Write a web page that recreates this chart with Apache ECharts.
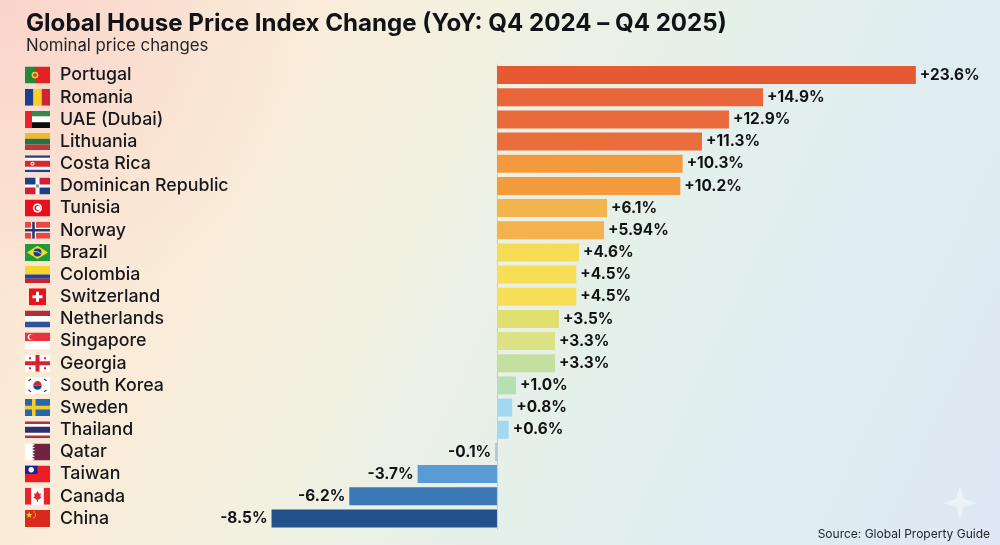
<!DOCTYPE html>
<html>
<head>
<meta charset="utf-8">
<script src="https://cdn.jsdelivr.net/npm/echarts@6/dist/echarts.min.js"></script>
<style>
html,body{margin:0;padding:0;width:1000px;height:545px;overflow:hidden}
body{background:
 radial-gradient(ellipse 300px 330px at 0 0,rgba(250,205,200,.7),rgba(250,205,200,0) 100%),
 linear-gradient(115deg,#fbe6d2 0%,#f9ecd9 25%,#f0f1e2 42%,#e4f0ea 60%,#dfedf2 80%,#dee7f4 100%);}
#c{width:1000px;height:545px}
</style>
</head>
<body>
<div id="c"></div>
<script>
var categories = ['Portugal','Romania','UAE (Dubai)','Lithuania','Costa Rica','Dominican Republic','Tunisia','Norway','Brazil','Colombia','Switzerland','Netherlands','Singapore','Georgia','South Korea','Sweden','Thailand','Qatar','Taiwan','Canada','China'];
// Figures as printed beside each bar in the reference.
var printedLabels = ['+23.6%','+14.9%','+12.9%','+11.3%','+10.3%','+10.2%','+6.1%','+5.94%','+4.6%','+4.5%','+4.5%','+3.5%','+3.3%','+3.3%','+1.0%','+0.8%','+0.6%','-0.1%','-3.7%','-6.2%','-8.5%'];
// Bar lengths as drawn in the reference, on the scale of its top bar. They differ from the
// printed figures: the reference draws its negative bars longer than their printed values.
var drawnLengths = [23.6,14.99,13.07,11.55,10.46,10.33,6.2,6.03,4.62,4.47,4.47,3.49,3.27,3.27,1.07,0.86,0.66,-0.1,-4.47,-8.32,-12.7];
var barColors = ['#e55a33','#e8663a','#e96b3b','#ea6e3c','#f39a3e','#f49c3d','#f3b44e','#f3b24e','#f6dc55','#f6df56','#f6df56','#dfe06e','#dbe284','#c5dfa0','#b5e0b5','#a3d8f2','#a3d8f2','#a9c4dc','#5b9bd5','#3a78b5','#22518c'];

function svg(body, w, h){
  w = w || 25; h = h || 17;
  return 'data:image/svg+xml;charset=utf-8,' + encodeURIComponent('<svg xmlns="http://www.w3.org/2000/svg" width="'+w*4+'" height="'+h*4+'" viewBox="0 0 '+w+' '+h+'">'+body+'</svg>');
}
function r(x,y,w,h,f){return '<rect x="'+x+'" y="'+y+'" width="'+w+'" height="'+h+'" fill="'+f+'"/>';}
var flagArt = [
 r(0,0,10,17,'#1f8a3c')+r(10,0,15,17,'#e32222')+'<circle cx="10" cy="8.5" r="3.4" fill="#f3c33b"/><circle cx="10" cy="8.5" r="1.8" fill="#c8402c"/>',
 r(0,0,8.4,17,'#1c3f94')+r(8.4,0,8.3,17,'#f8cf2a')+r(16.7,0,8.3,17,'#cf2435'),
 r(0,0,25,5.7,'#2f8a4c')+r(0,5.7,25,5.6,'#fff')+r(0,11.3,25,5.7,'#0c0c0c')+r(0,0,7,17,'#e3262b'),
 r(0,0,25,5.7,'#f2b92f')+r(0,5.7,25,5.6,'#2c7048')+r(0,11.3,25,5.7,'#b5393c'),
 r(0,0,25,17,'#fff')+r(0,0,25,2.6,'#2a3f86')+r(0,14.4,25,2.6,'#2a3f86')+r(0,5.4,25,6.2,'#d6282f')+'<circle cx="7.5" cy="8.5" r="2" fill="#fff"/><circle cx="7.5" cy="8.5" r="1" fill="#7a5a3a"/>',
 r(0,0,25,17,'#fff')+r(0,0,10.5,7,'#1d3f87')+r(14.5,0,10.5,7,'#d21f35')+r(0,10,10.5,7,'#d21f35')+r(14.5,10,10.5,7,'#1d3f87')+r(11,7,3,3,'#7f9a8a'),
 r(0,0,25,17,'#e8101f')+'<circle cx="12.5" cy="8.5" r="4.6" fill="#fff"/><circle cx="12.5" cy="8.5" r="3" fill="#e8101f"/><circle cx="13.4" cy="8.5" r="2.4" fill="#fff"/>',
 r(0,0,25,17,'#e8483f')+r(6,0,5,17,'#fff')+r(0,6,25,5,'#fff')+r(7.2,0,2.6,17,'#24386f')+r(0,7.2,25,2.6,'#24386f'),
 r(0,0,25,17,'#1f9a3a')+'<path d="M12.5 1.8L23 8.5L12.5 15.2L2 8.5Z" fill="#f6dc27"/><circle cx="12.5" cy="8.5" r="4" fill="#1f3a80"/><path d="M8.7 7.6Q12.5 7 16.2 9.8" stroke="#fff" fill="none" stroke-width=".7"/>',
 r(0,0,25,8.5,'#f8d52c')+r(0,8.5,25,4.25,'#24409a')+r(0,12.75,25,4.25,'#c9232f'),
 r(0,0,17,17,'#e8141c')+r(7,3.5,3,10,'#fff')+r(3.5,7,10,3,'#fff'),
 r(0,0,25,5.7,'#ad3038')+r(0,5.7,25,5.6,'#fff')+r(0,11.3,25,5.7,'#33509c'),
 r(0,0,25,8.5,'#e8333f')+r(0,8.5,25,8.5,'#fff')+'<circle cx="5.6" cy="4.3" r="2.9" fill="#fff"/><circle cx="6.9" cy="4.3" r="2.7" fill="#e8333f"/>',
 r(0,0,25,17,'#fff')+r(10.5,0,4,17,'#d8232f')+r(0,6.5,25,4,'#d8232f')+r(4,2.5,2,2,'#d8232f')+r(19,2.5,2,2,'#d8232f')+r(4,12.5,2,2,'#d8232f')+r(19,12.5,2,2,'#d8232f'),
 r(0,0,25,17,'#fff')+'<path d="M8.2 8.5A4.3 4.3 0 0 1 16.8 8.5Z" fill="#d6233a"/><path d="M8.2 8.5A4.3 4.3 0 0 0 16.8 8.5Z" fill="#20408f"/>'+'<g stroke="#222" stroke-width="1.1"><path d="M3.5 4L6 2M19 2L21.5 4M3.5 13L6 15M19 15L21.5 13"/></g>',
 r(0,0,25,17,'#2767a8')+r(7,0,3.6,17,'#f6c92c')+r(0,6.7,25,3.6,'#f6c92c'),
 r(0,0,25,17,'#fff')+r(0,0,25,2.8,'#b5303f')+r(0,14.2,25,2.8,'#b5303f')+r(0,5.6,25,5.8,'#2e2f68'),
 r(0,0,25,17,'#fff')+'<path d="M7 0H25V17H7L10 15.6L7 14.2L10 12.8L7 11.4L10 10L7 8.5L10 7L7 5.6L10 4.2L7 2.8L10 1.4Z" fill="#6e2440"/>',
 r(0,0,25,17,'#ee1c25')+r(0,0,12.5,8.5,'#17249c')+'<circle cx="6.2" cy="4.2" r="2.7" fill="#fff"/>',
 r(0,0,25,17,'#fff')+r(0,0,6.2,17,'#e8232a')+r(18.8,0,6.2,17,'#e8232a')+'<path d="M12.5 3L14 6L16 5.4L15.2 8.8L16.8 9.4L13 12.2V14H12V12.2L8.2 9.4L9.8 8.8L9 5.4L11 6Z" fill="#e8232a"/>',
 r(0,0,25,17,'#d82a1e')+'<path d="M4.2 1.8L5 4.1H7.3L5.4 5.5L6.1 7.8L4.2 6.4L2.3 7.8L3 5.5L1.1 4.1H3.4Z" fill="#f9dc2a"/>'+'<circle cx="9" cy="2" r=".7" fill="#f9dc2a"/><circle cx="10.4" cy="4" r=".7" fill="#f9dc2a"/><circle cx="10.4" cy="6" r=".7" fill="#f9dc2a"/><circle cx="9" cy="7.8" r=".7" fill="#f9dc2a"/>'
];
var flagWidths = {10:17};
var rich = {
  name:{fontFamily:'Inter',fontSize:17.8,fontWeight:500,color:'#16181c',padding:[0,0,0,10]},
  pad:{width:4}
};
flagArt.forEach(function(a,i){
  var w = flagWidths[i]||25;
  rich['f'+i] = {width:w,height:17,backgroundColor:{image:svg(a,w,17)}};
});

var barData = drawnLengths.map(function(v,i){
  return {
    value:v,
    itemStyle:{color:barColors[i]},
    label:{position:v<0?'left':'right',formatter:printedLabels[i]}
  };
});

var chart = echarts.init(document.getElementById('c'),null,{renderer:'canvas'});
chart.setOption({
  animation:false,
  backgroundColor:'transparent',
  title:[
    {text:'Global House Price Index Change (YoY: Q4 2024 – Q4 2025)',left:21,top:7,textStyle:{fontFamily:'Inter',fontSize:24.1,fontWeight:700,color:'#121316'}},
    {text:'Nominal price changes',left:21,top:32,textStyle:{fontFamily:'Inter',fontSize:16.8,fontWeight:400,color:'#23262b'}},
    {text:'Source: Global Property Guide',right:5,top:523,textStyle:{fontFamily:'Inter',fontSize:12,fontWeight:400,color:'#23262b'}}
  ],
  grid:{left:25,right:0,top:64,bottom:15.5,containLabel:false,outerBoundsMode:'none'},
  xAxis:{type:'value',min:-26.59,max:28.34,show:false},
  yAxis:{
    type:'category',data:categories,inverse:true,
    axisLine:{show:true,onZero:true,lineStyle:{color:'#c4cad0',width:1}},
    axisTick:{show:false},splitLine:{show:false},
    axisLabel:{
      margin:0,align:'left',interval:0,
      formatter:function(v,i){
        var gap = flagWidths[i]? '{pad|}' : '';
        return gap+'{f'+i+'|}'+gap+'{name|'+v+'}';
      },
      rich:rich
    }
  },
  series:[{
    type:'bar',data:barData,barWidth:18,
    label:{show:true,distance:4,fontFamily:'Inter',fontSize:15.4,fontWeight:700,color:'#121316'}
  }],
  graphic:[{
    type:'polygon',
    shape:{points:[[960,486],[964,499],[977,503],[964,507],[960,520],[956,507],[943,503],[956,499]]},
    style:{fill:'rgba(255,255,255,0.4)'},silent:true
  }]
});
</script>
</body>
</html>
